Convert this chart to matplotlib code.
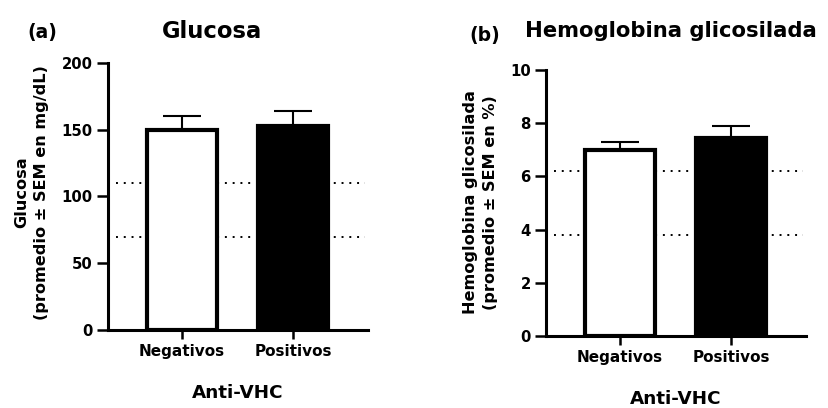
import numpy as np
import matplotlib.pyplot as plt

plt.rcParams['font.family'] = ['DejaVu Sans']
plt.rcParams['font.weight'] = 'bold'

groups = ["Negativos", "Positivos"]
glucosa = [150, 153]
glucosa_sem = [10, 11]
glucosa_ref = [70, 110]
hba1c = [7.0, 7.45]
hba1c_sem = [0.3, 0.45]
hba1c_ref = [3.8, 6.2]

fig = plt.figure(figsize=(8.29, 4.08), dpi=100)
ax1 = fig.add_axes([0.1303, 0.1912, 0.3137, 0.6544])
ax2 = fig.add_axes([0.6586, 0.1765, 0.3136, 0.652])


def panel(ax, vals, sem, ref, ymax, step):
    x = np.arange(len(vals))
    for r in ref:
        ax.axhline(r, xmin=0.03, xmax=0.99, color="black", lw=1.4,
                   ls=(0, (1, 3)), dash_capstyle="butt", zorder=1)
    ax.bar(x, vals, width=0.63, color=["white", "black"], edgecolor="black",
           linewidth=3, zorder=3)
    ax.errorbar(x, vals, yerr=[[0, 0], sem], fmt="none", ecolor="black",
                elinewidth=1.5, capsize=13.5, capthick=1.5, zorder=2)
    ax.set_xlim(-0.667, 1.676)
    ax.set_ylim(0, ymax)
    ax.set_yticks(np.arange(0, ymax + step, step))
    ax.set_xticks(x)
    ax.set_xticklabels(groups, fontsize=11, fontweight="bold")
    ax.tick_params(axis="y", labelsize=10.7, width=1.8, length=8, pad=3)
    ax.tick_params(axis="x", width=1.8, length=6.5, pad=3.5)
    for s in ["top", "right"]:
        ax.spines[s].set_visible(False)
    for s in ["left", "bottom"]:
        ax.spines[s].set_linewidth(2.2)
    ax.set_xlabel("Anti-VHC", fontsize=13.2, fontweight="bold", labelpad=18)


panel(ax1, glucosa, glucosa_sem, glucosa_ref, 200, 50)
panel(ax2, hba1c, hba1c_sem, hba1c_ref, 10, 2)

fig.text(31.5 / 829, 0.528, "Glucosa\n(promedio ± SEM en mg/dL)", rotation=90,
         fontsize=11.6, fontweight="bold", ha="center", va="center",
         linespacing=1.4, multialignment="center")
fig.text(480.5 / 829, 0.504, "Hemoglobina glicosilada\n(promedio ± SEM en %)",
         rotation=90, fontsize=11.6, fontweight="bold", ha="center",
         va="center", linespacing=1.4, multialignment="center")

fig.text(42 / 829, 0.906, "(a)", fontsize=13.5, fontweight="bold",
         ha="center", va="baseline")
fig.text(212 / 829, 0.906, "Glucosa", fontsize=16.3, fontweight="bold",
         ha="center", va="baseline")
fig.text(485 / 829, 0.900, "(b)", fontsize=13.5, fontweight="bold",
         ha="center", va="baseline")
fig.text(671 / 829, 0.910, "Hemoglobina glicosilada", fontsize=15.2,
         fontweight="bold", ha="center", va="baseline")

fig.savefig("out.png", dpi=100)
